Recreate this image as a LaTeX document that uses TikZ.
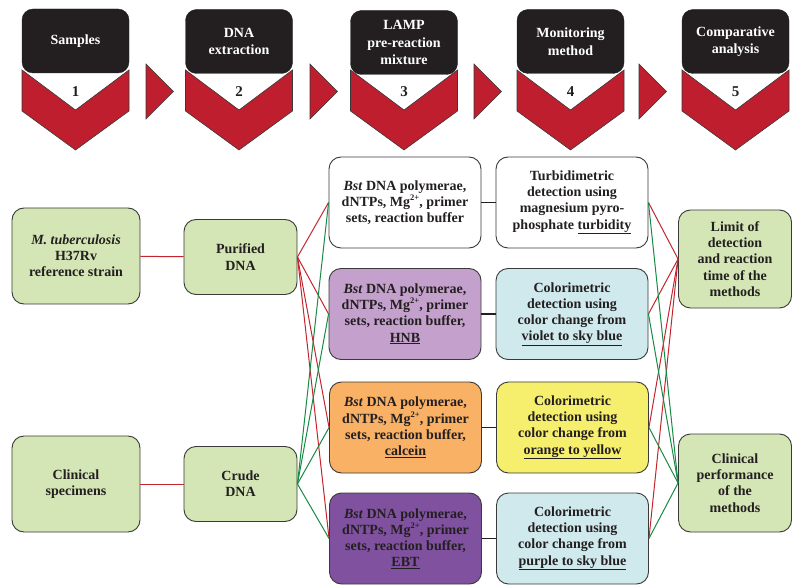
\documentclass[tikz,border=0pt]{standalone}
\usepackage{fontspec}
\setmainfont{Liberation Serif}
\definecolor{hdrblack}{HTML}{231F20}
\definecolor{chevred}{HTML}{BE1E2D}
\definecolor{boxgreen}{HTML}{D4E6B5}
\definecolor{lilac}{HTML}{C4A0CC}
\definecolor{orangebox}{HTML}{F9B165}
\definecolor{darkpurple}{HTML}{7F519F}
\definecolor{skyblue}{HTML}{CFE9ED}
\definecolor{yellowbox}{HTML}{F6EE6D}
\definecolor{redline}{HTML}{C4242E}
\definecolor{greenline}{HTML}{178A45}
\definecolor{edgegray}{HTML}{3A3A3A}
\definecolor{txt}{HTML}{231F20}
\newcommand{\mgsup}{Mg\raisebox{0.42em}{\fontsize{8.5}{8.5}\selectfont 2+}}
\begin{document}
\begin{tikzpicture}[x=1pt,y=-1pt,
  hdr/.style={fill=hdrblack, draw=hdrblack, rounded corners=11pt, minimum width=107pt, minimum height=64pt, inner sep=0pt, align=center, text=white, font=\fontsize{14}{17.5}\selectfont\bfseries},
  num/.style={inner sep=0pt, text=txt, font=\fontsize{15}{16}\selectfont\bfseries},
  chev/.style={fill=chevred, draw=edgegray, line width=0.6pt, line join=miter},
  boxbase/.style={draw=edgegray, line width=0.9pt, rounded corners=12pt, inner sep=0pt, align=center, text=txt, font=\fontsize{14}{16.2}\selectfont\bfseries},
  srcbox/.style={boxbase, fill=boxgreen, minimum width=128pt, minimum height=96pt},
  dnabox/.style={boxbase, fill=boxgreen, minimum width=113pt, minimum height=75pt},
  mixbox/.style={boxbase, minimum width=152pt, minimum height=91pt},
  resbox/.style={boxbase, fill=boxgreen, minimum width=113pt, minimum height=98pt},
  redconn/.style={draw=redline, line width=1pt},
  greenconn/.style={draw=greenline, line width=1pt},
  blackconn/.style={draw=hdrblack, line width=1.1pt}
]
\useasboundingbox (0,0) rectangle (792,585);

% chevrons and header boxes
\foreach \cx/\i in {75.5/1,239/2,404/3,570.5/4,735.5/5}{
  \path[chev] (\cx-53.5,70) -- (\cx,110) -- (\cx+53.5,70) -- (\cx+53.5,111) -- (\cx,150) -- (\cx-53.5,111) -- cycle;
}
\node[hdr] (h1) at (75.5,41) {Samples};
\node[hdr] (h2) at (239,41.5) {DNA\\extraction};
\node[hdr] (h3) at (404,42.5) {LAMP\\pre-reaction\\mixture};
\node[hdr] (h4) at (570.5,41.5) {Monitoring\\method};
\node[hdr] (h5) at (735.5,41.5) {Comparative\\analysis};
\node[num] (n1) at (75.5,92) {1};
\node[num] (n2) at (239,92) {2};
\node[num] (n3) at (404,92) {3};
\node[num] (n4) at (570.5,92) {4};
\node[num] (n5) at (735.5,92) {5};

% small arrow triangles
\foreach \xa in {146,310,474,639}{
  \path[chev] (\xa,64) -- (\xa+27.5,91.5) -- (\xa,119) -- cycle;
}

% boxes
\node[srcbox] (src1) at (76,256) {\textit{M. tuberculosis}\\H37Rv\\reference strain};
\node[srcbox] (src2) at (76,484) {Clinical\\specimens};
\node[dnabox] (dna1) at (240.5,257) {Purified\\DNA};
\node[dnabox] (dna2) at (240.5,484) {Crude\\DNA};

\node[mixbox, fill=white] (mix1) at (405,202.5) {\textit{Bst} DNA polymerae,\\dNTPs, \mgsup, primer\\sets, reaction buffer};
\node[mixbox, fill=lilac] (mix2) at (405,314) {\textit{Bst} DNA polymerae,\\dNTPs, \mgsup, primer\\sets, reaction buffer,\\\underline{HNB}};
\node[mixbox, fill=orangebox] (mix3) at (405.5,427.5) {\textit{Bst} DNA polymerae,\\dNTPs, \mgsup, primer\\sets, reaction buffer,\\\underline{calcein}};
\node[mixbox, fill=darkpurple] (mix4) at (405.5,538.5) {\textit{Bst} DNA polymerae,\\dNTPs, \mgsup, primer\\sets, reaction buffer,\\\underline{EBT}};

\node[mixbox, fill=white] (mon1) at (572,202.5) {Turbidimetric\\detection using\\magnesium pyro-\\phosphate \underline{turbidity}};
\node[mixbox, fill=skyblue] (mon2) at (572,314) {Colorimetric\\detection using\\color change from\\\underline{violet to sky blue}};
\node[mixbox, fill=yellowbox] (mon3) at (572.5,427.5) {Colorimetric\\detection using\\color change from\\\underline{orange to yellow}};
\node[mixbox, fill=skyblue] (mon4) at (572.5,538.5) {Colorimetric\\detection using\\color change from\\\underline{purple to sky blue}};

\node[resbox] (res1) at (735,259) {Limit of\\detection\\and reaction\\time of the\\methods};
\node[resbox] (res2) at (735,483) {Clinical\\performance\\of the\\methods};

% connectors
\draw[redconn] (src1) -- (dna1);
\draw[redconn] (src2) -- (dna2);
\foreach \k in {1,2,3,4}{
  \draw[redconn] (dna1.east) -- (mix\k.west);
  \draw[blackconn] (mix\k) -- (mon\k);
}
\foreach \k in {1,2,3,4}{
  \draw[greenconn] (dna2.east) -- (mix\k.west);
}
\foreach \k in {1,2,3,4}{
  \draw[redconn] (mon\k.east) -- (res1.west);
}
\foreach \k in {1,2,3,4}{
  \draw[greenconn] (mon\k.east) -- (res2.west);
}
\end{tikzpicture}
\end{document}
